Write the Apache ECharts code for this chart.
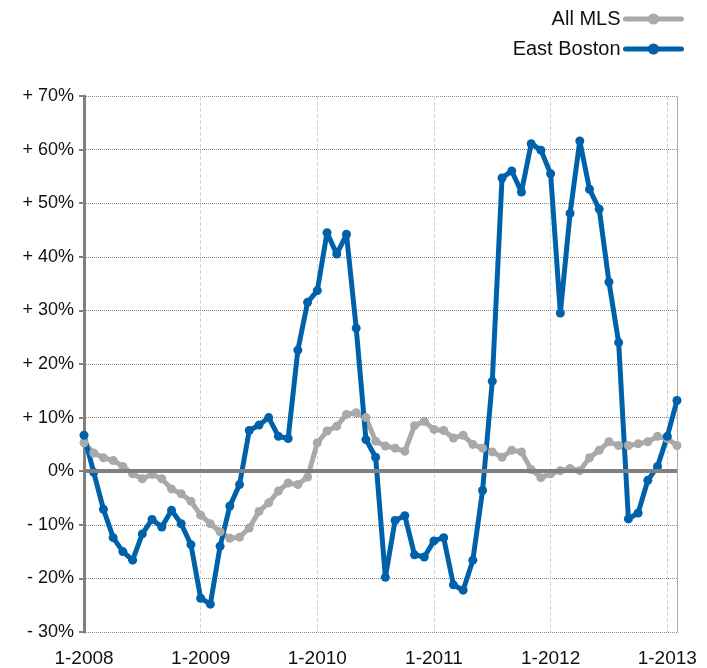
<!DOCTYPE html>
<html>
    <head>
        <meta charset="utf-8">
        <title>East Boston vs All MLS</title>
        <script src="https://cdn.jsdelivr.net/npm/echarts@6/dist/echarts.min.js"></script>
        <style>
          body { margin: 0; background: #fff; }
        </style>
    </head>
    <body>
    <div id="chart" style="width: 707px;height:668px;"></div>
    <script type="text/javascript">
        // monthly, 1-2008 .. 2-2013
        var startYear = 2008;
        var monthCount = 62;
        var months = [];
        for (var i = 0; i < monthCount; i++) {
          months.push((i % 12 + 1) + '-' + (startYear + Math.floor(i / 12)));
        }
        var allMls = [
          5.3, 3.4, 2.5, 2.0, 0.9, -0.5, -1.4, -0.6, -1.4, -3.3, -4.2, -5.6,
          -8.2, -9.8, -11.3, -12.5, -12.3, -10.6, -7.5, -5.9, -3.7, -2.2, -2.5, -1.1,
          5.3, 7.5, 8.4, 10.6, 10.9, 10.0, 5.6, 4.7, 4.3, 3.7, 8.5, 9.3,
          7.8, 7.6, 6.2, 6.7, 5.0, 4.3, 3.6, 2.6, 3.9, 3.6, 0.3, -1.2,
          -0.5, 0.1, 0.5, 0.1, 2.5, 3.9, 5.5, 4.8, 4.8, 5.1, 5.5, 6.5,
          6.1, 4.8
        ];
        var eastBoston = [
          6.7, -0.2, -7.1, -12.4, -15.0, -16.6, -11.7, -9.0, -10.4, -7.3, -9.8, -13.7,
          -23.7, -24.8, -14.0, -6.5, -2.5, 7.6, 8.6, 10.0, 6.5, 6.1, 22.6, 31.5,
          33.7, 44.5, 40.5, 44.2, 26.7, 5.9, 2.6, -19.8, -9.2, -8.3, -15.6, -16.0,
          -13.0, -12.4, -21.2, -22.2, -16.6, -3.6, 16.8, 54.7, 56.0, 52.1, 61.1, 59.9,
          55.5, 29.5, 48.1, 61.6, 52.6, 48.9, 35.3, 24.0, -8.9, -7.8, -1.7, 0.9,
          6.5, 13.2
        ];
        var yMin = -30, yMax = 70, yStep = 10;

        var font = '"Liberation Sans", Arial, Helvetica, sans-serif';
        var chart = echarts.init(document.getElementById('chart'));
        chart.setOption({
          animation: false,
          textStyle: { fontFamily: font },
          legend: {
            orient: 'vertical',
            right: 23,
            top: 9,
            padding: 0,
            align: 'right',
            itemWidth: 56,
            itemHeight: 14,
            itemGap: 10,
            lineStyle: { width: 5, cap: 'round' },
            textStyle: { fontSize: 20, color: '#111', fontFamily: font },
            data: ['All MLS', 'East Boston']
          },
          grid: { left: 84, right: 30, top: 96, bottom: 34 },
          xAxis: {
            type: 'category',
            boundaryGap: false,
            data: months,
            axisLine: { show: false },
            axisTick: { show: false },
            axisLabel: {
              interval: 11,
              margin: 17,
              fontSize: 19,
              color: '#111'
            },
            splitLine: {
              show: true,
              interval: function (i) { return i > 0 && i % 12 === 0; },
              lineStyle: { color: '#d4d4d4', type: 'dashed', width: 1 }
            }
          },
          yAxis: [{
            type: 'value',
            min: yMin,
            max: yMax,
            interval: yStep,
            axisLine: { show: true, lineStyle: { color: '#808080', width: 3 } },
            axisTick: { show: true, length: 5, lineStyle: { color: '#808080', width: 2 } },
            axisLabel: {
              margin: 10,
              fontSize: 18,
              color: '#111',
              formatter: function (v) {
                if (v > 0) return '+ ' + v + '%';
                if (v < 0) return '- ' + (-v) + '%';
                return '0%';
              }
            },
            splitLine: { lineStyle: { color: '#8a8a8a', type: 'dotted', width: 1 } }
          }, {
            type: 'value',
            position: 'right',
            min: yMin,
            max: yMax,
            interval: yStep,
            axisLine: { show: true, lineStyle: { color: '#999', type: 'dotted', width: 1 } },
            axisTick: { show: false },
            axisLabel: { show: false },
            splitLine: { show: false }
          }],
          series: [{
            name: 'All MLS',
            type: 'line',
            data: allMls,
            symbol: 'circle',
            symbolSize: 9,
            showSymbol: true,
            showAllSymbol: true,
            color: '#a9a9a9',
            lineStyle: { width: 5, color: '#a9a9a9' },
            itemStyle: { color: '#a9a9a9' },
            markLine: {
              silent: true,
              symbol: 'none',
              label: { show: false },
              lineStyle: { color: '#808080', width: 4, type: 'solid' },
              data: [{ yAxis: 0 }]
            }
          }, {
            name: 'East Boston',
            type: 'line',
            data: eastBoston,
            symbol: 'circle',
            symbolSize: 9,
            showSymbol: true,
            showAllSymbol: true,
            color: '#0061ab',
            lineStyle: { width: 5, color: '#0061ab' },
            itemStyle: { color: '#0061ab' }
          }]
        });
    </script>
    </body>
</html>
